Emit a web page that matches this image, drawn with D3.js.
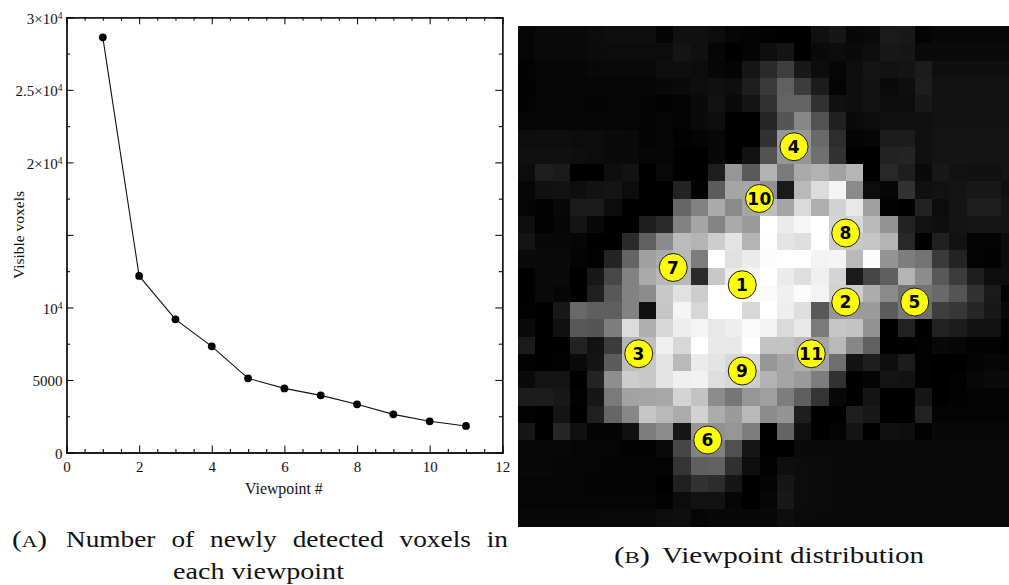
<!DOCTYPE html>
<html><head><meta charset="utf-8">
<script src="https://cdn.jsdelivr.net/npm/d3@7/dist/d3.min.js"></script>
<style>
html,body{margin:0;padding:0;background:#fff;overflow:hidden}
svg{display:block}
text{font-family:"Liberation Serif",serif;fill:#111}
.tk text{font-size:15px}
</style></head><body>
<svg id="c" width="1009" height="585"></svg>
<script>
const viewpoints=[1,2,3,4,5,6,7,8,9,10,11];
const visibleVoxels=[28620,12170,9180,7320,5110,4420,3940,3320,2630,2150,1830];
const yMajorTicks=[0,5000,10000,15000,20000,25000,30000];
const yMinorTicks=[2500,7500,12500,17500,22500,27500];
const xMajorTicks=[0,2,4,6,8,10,12];
const xMinorTicks=[0.5,1,1.5,2.5,3,3.5,4.5,5,5.5,6.5,7,7.5,8.5,9,9.5,10.5,11,11.5];
const yTickPlain={5000:"5000",0:"0"};
const yTickSci={10000:["","4"],20000:["2×","4"],25000:["2.5×","4"],30000:["3×","4"]};
const heatRows=[
[6,10,10,10,12,14,14,14,4,16,16,12,6,4,2,0,0,16,22,8,10,26,24,4,8,8,8,8,8],
[5,9,9,9,11,12,12,12,12,20,16,6,0,4,14,20,0,10,12,10,14,24,22,10,10,10,10,10,10],
[3,6,6,6,8,9,9,9,14,14,12,6,4,22,42,62,24,12,6,14,20,18,20,28,15,15,15,15,15],
[2,5,5,5,5,6,6,6,8,10,14,16,14,30,58,96,60,28,4,14,18,10,14,30,18,18,18,18,18],
[3,5,5,5,4,5,5,4,2,4,10,18,10,20,50,100,100,50,16,14,18,12,12,24,18,18,18,18,18],
[5,6,6,6,5,5,5,4,6,4,10,14,0,0,38,85,135,82,32,10,12,16,16,16,18,18,18,18,18],
[14,14,14,12,12,10,9,4,6,2,4,8,0,0,50,150,150,105,45,4,6,28,28,16,20,20,20,20,20],
[16,16,16,14,12,10,10,6,6,0,0,8,0,18,82,150,150,112,50,0,0,34,36,16,20,20,20,20,20],
[12,30,26,0,0,14,18,0,10,0,0,30,150,90,178,122,170,178,162,182,0,40,30,10,24,18,16,16,20],
[6,16,18,14,18,20,12,0,0,35,2,92,165,165,145,26,185,220,245,138,12,6,50,16,18,20,24,24,16],
[5,2,8,26,26,12,0,0,0,102,130,170,138,165,190,165,218,175,210,232,160,2,0,34,12,20,30,30,20],
[14,2,6,20,8,0,0,30,42,130,165,132,170,155,255,235,247,255,212,215,185,148,34,18,14,20,22,22,20],
[20,8,8,6,0,0,42,96,138,188,180,205,228,180,253,228,222,255,205,200,198,180,40,0,32,18,4,4,12],
[10,10,10,4,2,36,100,160,170,185,125,255,225,235,252,255,255,243,245,185,252,148,125,115,58,35,4,2,12],
[0,10,10,0,24,72,130,170,185,185,42,200,235,245,255,235,222,240,212,26,70,95,180,140,88,60,30,14,14],
[0,10,6,0,32,88,130,140,200,225,205,255,255,250,250,240,252,243,210,205,172,138,115,115,105,85,50,26,0],
[2,0,24,105,95,95,130,16,198,245,215,255,255,215,255,238,222,88,150,155,155,92,120,110,62,55,38,24,8],
[10,0,16,88,85,125,220,175,215,238,245,232,238,250,243,218,232,122,198,195,145,0,34,0,34,28,18,18,2],
[26,0,0,34,18,60,180,190,240,215,255,232,232,255,195,195,185,165,185,135,96,0,0,2,8,6,2,2,0],
[2,0,2,10,20,92,190,200,228,185,235,228,215,215,150,165,175,165,110,18,30,14,28,2,0,0,4,6,4],
[10,20,20,0,36,142,205,200,228,240,242,222,215,205,178,165,155,125,50,0,4,20,18,2,0,2,8,10,10],
[28,28,24,2,22,122,162,165,168,212,195,140,118,150,160,125,95,52,8,0,20,0,0,22,0,2,4,4,4],
[2,0,20,0,32,102,135,198,185,172,210,172,155,185,140,148,30,0,0,30,24,0,0,34,4,4,4,4,4],
[22,0,38,16,4,4,16,125,140,22,150,145,150,125,0,100,16,0,4,20,0,16,14,2,8,8,8,8,8],
[8,8,8,6,6,5,3,3,10,70,130,130,80,22,0,0,10,10,10,10,10,10,10,10,10,10,10,10,10],
[8,8,6,5,5,4,4,4,4,52,95,98,48,14,2,14,12,11,10,10,10,10,10,10,10,10,10,10,10],
[6,6,5,5,4,4,4,4,0,32,50,44,22,0,4,22,12,11,10,10,10,10,10,10,10,10,10,10,10],
[5,5,5,5,5,5,5,5,2,12,18,18,6,0,6,24,12,11,10,10,10,10,10,10,10,10,10,10,10],
[8,8,8,8,8,9,9,9,12,14,6,8,8,8,8,14,11,10,10,10,10,10,10,10,10,10,10,10,10]
];
const markerLabels=["1","2","3","4","5","6","7","8","9","10","11"];
const markerCols=[13,19,7,16,23,11,9,19,13,14,17];
const markerRows=[15,16,19,7,16,24,14,12,20,10,19];

const svg=d3.select("#c");
const L=66.5,R=502.3,T=17.3,B=452.5;
const x=d3.scaleLinear().domain([0,12]).range([L,R]);
const y=d3.scaleLinear().domain([0,30000]).range([B,T]);
const col="#111";

function frame(g){g.select(".domain").attr("stroke",col).attr("stroke-width",1.3);
 g.selectAll("line").attr("stroke",col).attr("stroke-width",1.1);}
const empty=()=>"";
svg.append("g").attr("class","tk").attr("transform",`translate(0,${B})`)
 .call(d3.axisBottom(x).tickValues(xMinorTicks).tickSize(-3.5).tickFormat(empty)).call(frame);
svg.append("g").attr("class","tk").attr("transform",`translate(0,${T})`)
 .call(d3.axisTop(x).tickValues(xMinorTicks).tickSize(-3.5).tickFormat(empty)).call(frame);
svg.append("g").attr("class","tk").attr("transform",`translate(${L},0)`)
 .call(d3.axisLeft(y).tickValues(yMinorTicks).tickSize(-3.5).tickFormat(empty)).call(frame);
svg.append("g").attr("class","tk").attr("transform",`translate(${R},0)`)
 .call(d3.axisRight(y).tickValues(yMinorTicks).tickSize(-3.5).tickFormat(empty)).call(frame);
const xb=svg.append("g").attr("class","tk").attr("transform",`translate(0,${B})`)
 .call(d3.axisBottom(x).tickValues(xMajorTicks).tickSize(-7).tickPadding(12).tickFormat(d3.format("d"))).call(frame);
xb.selectAll("text").attr("dy","0.71em").attr("y",8.5);
svg.append("g").attr("class","tk").attr("transform",`translate(0,${T})`)
 .call(d3.axisTop(x).tickValues(xMajorTicks).tickSize(-7).tickFormat(empty)).call(frame);
const yl=svg.append("g").attr("class","tk").attr("transform",`translate(${L},0)`)
 .call(d3.axisLeft(y).tickValues(yMajorTicks).tickSize(-7).tickFormat(empty)).call(frame);
svg.append("g").attr("class","tk").attr("transform",`translate(${R},0)`)
 .call(d3.axisRight(y).tickValues(yMajorTicks).tickSize(-7).tickFormat(empty)).call(frame);
yl.selectAll(".tick").each(function(d){
  const t=d3.select(this).select("text").attr("x",-4).attr("dy",null).attr("y",6).attr("text-anchor","end");
  if(yTickPlain[d]!==undefined){t.text(yTickPlain[d]);}
  else if(yTickSci[d]){
    const s=yTickSci[d];
    t.text(s[0]+"10");
    t.append("tspan").attr("dy","-0.55em").style("font-size","9.5px").text(s[1]);
  }
});
svg.append("path").datum(viewpoints.map((v,i)=>[v,visibleVoxels[i]]))
 .attr("fill","none").attr("stroke",col).attr("stroke-width",1.1)
 .attr("d",d3.line().x(d=>x(d[0])).y(d=>y(d[1])));
svg.selectAll("circle.p").data(viewpoints).join("circle").attr("class","p")
 .attr("cx",d=>x(d)).attr("cy",(d,i)=>y(visibleVoxels[i])).attr("r",3.9).attr("fill","#000");
svg.append("text").attr("x",(L+R)/2-0.5).attr("y",494).attr("text-anchor","middle").style("font-size","15.8px").text("Viewpoint #");
svg.append("text").attr("transform","translate(24,235) rotate(-90)").attr("text-anchor","middle").style("font-size","15.5px").text("Visible voxels");

const hx=d3.scaleLinear().domain([0,29]).range([518,518+29*17.25]);
const hy=d3.scaleLinear().domain([0,29]).range([26,26+29*17.25]);
const gray=d3.scaleLinear().domain([0,255]).range(["#000","#fff"]);
svg.append("g").attr("shape-rendering","crispEdges").selectAll("g").data(heatRows).join("g")
 .each(function(row,r){
  d3.select(this).selectAll("rect").data(row).join("rect")
   .attr("x",(d,c)=>hx(c)).attr("y",hy(r)).attr("width",hx(1)-hx(0)+.5).attr("height",hy(1)-hy(0)+.5)
   .attr("fill",d=>gray(d));
 });
const mk=svg.append("g").selectAll("g").data(markerLabels).join("g")
 .attr("transform",(d,i)=>`translate(${hx(markerCols[i])},${hy(markerRows[i])})`);
mk.append("circle").attr("r",14).attr("fill","#ffff00").attr("stroke","#1a1a1a").attr("stroke-width",1);
mk.append("text").attr("text-anchor","middle").attr("dy","0.37em")
 .style("font-family","'DejaVu Sans'").style("font-weight","bold").style("font-size","17px").style("letter-spacing","0.5px").style("fill","#000").text(d=>d);

function cap(txt,x0,x1,yy,extra){
 const t=svg.append("text").attr("x",x0).attr("y",yy).style("font-size","24px")
  .attr("textLength",x1-x0).attr("lengthAdjust","spacingAndGlyphs").text(txt);
 if(extra)t.style("word-spacing",extra);
 return t;
}
function capLabel(letter,x0,x1,yy){
 const t=svg.append("text").attr("x",x0).attr("y",yy).style("font-size","24px")
  .attr("textLength",x1-x0).attr("lengthAdjust","spacingAndGlyphs");
 t.append("tspan").text("(");
 t.append("tspan").style("font-size","17.5px").text(letter);
 t.append("tspan").text(")");
}
capLabel("A",12,47,547);
cap("Number of newly detected voxels in",66,508,547,"8px");
cap("each viewpoint",173,344,579);
capLabel("B",614,650,563);
cap("Viewpoint distribution",662,924,563);
</script>
</body></html>
